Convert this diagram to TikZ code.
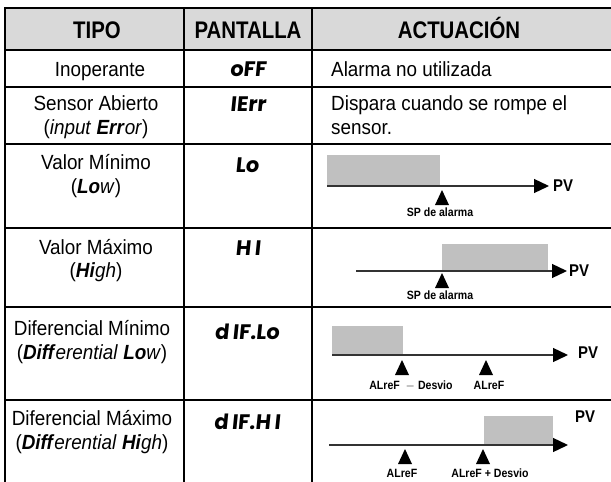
\documentclass[tikz,border=0pt]{standalone}
\usepackage{fontspec}
\setmainfont{Liberation Sans}[FakeStretch=0.92]
\newfontfamily\hdrfont{Liberation Sans}[FakeStretch=0.85]
\newfontfamily\segfont{Poppins}[FakeSlant=0.1]
\newfontfamily\lblfont{Liberation Sans}[FakeStretch=0.88]
\usetikzlibrary{arrows.meta}
\definecolor{hdrgray}{HTML}{D9D9D9}
\definecolor{zone}{HTML}{C0C0C0}
\definecolor{axisc}{HTML}{333333}
\begin{document}
\begin{tikzpicture}[x=1pt,y=-1pt,
  gridline/.style={line width=1.3pt,black},
  hdr/.style={font=\hdrfont\fontsize{24}{28}\selectfont\bfseries,anchor=base,inner sep=0pt},
  bodyc/.style={font=\fontsize{20.5}{24}\selectfont,anchor=base,inner sep=0pt},
  bodyl/.style={font=\fontsize{20.5}{24}\selectfont,anchor=base west,inner sep=0pt},
  seg/.style={font=\fontsize{21}{24}\selectfont\segfont\bfseries,anchor=base,inner sep=0pt},
  zonebox/.style={fill=zone,draw=none},
  axisline/.style={draw=axisc,line width=1.3pt,-{Triangle[length=15pt,width=14pt,fill=black,color=black]}},
  lbl/.style={font=\lblfont\fontsize{12}{14}\selectfont\bfseries,anchor=base,inner sep=0pt},
  pv/.style={font=\lblfont\fontsize{17}{19}\selectfont\bfseries,anchor=center,inner sep=0pt}]
\useasboundingbox (0,0) rectangle (611,482);
\fill[white] (0,0) rectangle (611,482);
% header
\fill[hdrgray] (5,8) rectangle (611,50);
\draw[gridline] (611,8) -- (5,8) -- (5,482);
\draw[gridline] (184,8) -- (184,482);
\draw[gridline] (312,8) -- (312,482);
\foreach \yy in {50,87,144,228,307,400} \draw[gridline] (5,\yy) -- (611,\yy);
\node[hdr] (h1) at (97,38) {TIPO};
\node[hdr] (h2) at (248,38) {PANTALLA};
\node[hdr] (h3) at (459,38) {ACTUACIÓN};
% row 1
\node[bodyc] (r1a) at (100,76) {Inoperante};
\node[seg] (r1b) at (248,76) {oFF};
\node[bodyl] (r1c) at (331,76) {Alarma no utilizada};
% row 2
\node[bodyc] (r2a) at (96,110) {Sensor Abierto};
\node[bodyc] (r2a2) at (96,134) {(\textit{input} \textbf{\textit{Err}}\textit{or})};
\node[seg] (r2b) at (248,111) {IErr};
\node[bodyl] (r2c) at (331,110) {Dispara cuando se rompe el};
\node[bodyl] (r2c2) at (331,134) {sensor.};
% row 3
\node[bodyc] (r3a) at (96,169) {Valor Mínimo};
\node[bodyc] (r3a2) at (96,193) {(\textbf{\textit{Lo}}\textit{w})};
\node[seg] (r3b) at (247,172) {Lo};
\fill[zonebox] (327,155) rectangle (440,186);
\coordinate (a3s) at (327,186);
\coordinate (a3e) at (549,186);
\draw[axisline] (a3s) -- (a3e);
\node[pv] (pv3) at (563,186) {PV};
\coordinate (m3) at (442,190);
\fill (m3) -- ++(-7,15) -- ++(14,0) -- cycle;
\node[lbl] (l3) at (440,216) {SP de alarma};
% row 4
\node[bodyc] (r4a) at (96,254) {Valor Máximo};
\node[bodyc] (r4a2) at (96,277) {(\textbf{\textit{Hi}}\textit{gh})};
\node[seg] (r4b) at (248,255) {H\,I};
\fill[zonebox] (442,244) rectangle (548,271);
\coordinate (a4s) at (356,271);
\coordinate (a4e) at (567,271);
\draw[axisline] (a4s) -- (a4e);
\node[pv] (pv4) at (579,271) {PV};
\coordinate (m4) at (442,273);
\fill (m4) -- ++(-7,15) -- ++(14,0) -- cycle;
\node[lbl] (l4) at (440,299) {SP de alarma};
% row 5
\node[bodyc] (r5a) at (92,335) {Diferencial Mínimo};
\node[bodyc] (r5a2) at (92,359) {(\textbf{\textit{Diff}}\textit{erential} \textbf{\textit{Lo}}\textit{w})};
\node[seg] (r5b) at (247,339) {d\,IF.Lo};
\fill[zonebox] (332,326) rectangle (403,355);
\coordinate (a5s) at (332,355);
\coordinate (a5e) at (568,355);
\draw[axisline] (a5s) -- (a5e);
\node[pv] (pv5) at (588,353) {PV};
\coordinate (m5a) at (402,360);
\fill (m5a) -- ++(-7,15) -- ++(14,0) -- cycle;
\coordinate (m5b) at (486,360);
\fill (m5b) -- ++(-7,15) -- ++(14,0) -- cycle;
\node[lbl] (l5a) at (411,389) {ALreF \ $-$ Desvio};
\node[lbl] (l5b) at (489,389) {ALreF};
% row 6
\node[bodyc] (r6a) at (92,425) {Diferencial Máximo};
\node[bodyc] (r6a2) at (92,449) {(\textbf{\textit{Diff}}\textit{erential} \textbf{\textit{Hi}}\textit{gh})};
\node[seg] (r6b) at (247,429) {d\,IF.H\,I};
\fill[zonebox] (484,416) rectangle (553,445);
\coordinate (a6s) at (329,445);
\coordinate (a6e) at (568,445);
\draw[axisline] (a6s) -- (a6e);
\node[pv] (pv6) at (585,417) {PV};
\coordinate (m6a) at (405,449);
\fill (m6a) -- ++(-7,15) -- ++(14,0) -- cycle;
\coordinate (m6b) at (483,449);
\fill (m6b) -- ++(-7,15) -- ++(14,0) -- cycle;
\node[lbl] (l6a) at (402,477) {ALreF};
\node[lbl] (l6b) at (490,477) {ALreF + Desvio};
\end{tikzpicture}
\end{document}
